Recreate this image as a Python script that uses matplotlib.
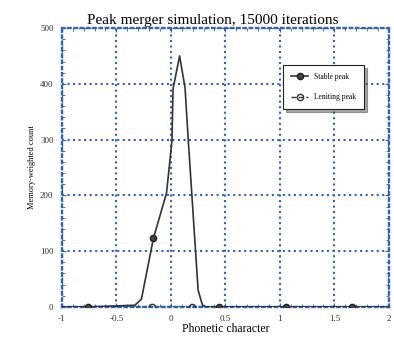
import matplotlib
matplotlib.use("Agg")
import matplotlib.pyplot as plt
import numpy as np

# stable peak curve (phonetic character, memory-weighted count)
stable_x = [-1.0, -0.76, -0.33, -0.27, -0.16, -0.04, 0.01, 0.02, 0.08, 0.13, 0.16, 0.25, 0.29, 0.32, 0.44, 1.06, 1.66, 2.0]
stable_y = [0, 0, 3, 14, 123, 204, 298, 391, 450, 393, 298, 30, 3, 0, 0, 0, 0, 0]
stable_marks = [1, 4, 14, 15, 16]

# leniting peak
lenit_x = [-1.0, -0.17, 0.19, 2.0]
lenit_y = [0, 0, 0, 0]
lenit_marks = [1, 2]

x_ticks = [-1, -0.5, 0, 0.5, 1, 1.5, 2]
x_ticklabels = ["-1", "-0.5", "0", "0.5", "1", "1.5", "2"]
y_ticks = [0, 100, 200, 300, 400, 500]

plt.rcParams["font.family"] = ["Liberation Serif", "DejaVu Serif"]
blue = "#2f62b8"

fig = plt.figure(figsize=(3.94, 3.38), dpi=100)
ax = fig.add_axes([0.157, 0.092, 0.83, 0.825])

ax.plot(lenit_x, lenit_y, "--", color="#333333", linewidth=1.0,
        marker="o", markevery=lenit_marks, markersize=4.5,
        markerfacecolor="none", markeredgecolor="#333333", label="Leniting peak",
        zorder=3)
ax.plot(stable_x, stable_y, "-", color="#333333", linewidth=1.2,
        marker="o", markevery=stable_marks, markersize=4.5,
        markerfacecolor="#444444", markeredgecolor="#222222", label="Stable peak",
        zorder=4)

ax.set_xlim(-1, 2)
ax.set_ylim(0, 500)
ax.set_xticks(x_ticks)
ax.set_xticklabels(x_ticklabels)
ax.set_yticks(y_ticks)
ax.set_xticks(np.arange(-1, 2.01, 0.1), minor=True)
ax.set_yticks(np.arange(0, 501, 20), minor=True)
ax.tick_params(which="both", direction="in", colors=blue, labelcolor="#333333",
               labelsize=6.5, top=True, right=True)
ax.tick_params(which="major", length=3, pad=6)
ax.tick_params(which="minor", length=2)

ax.grid(True, which="major", linestyle=":", color=blue, linewidth=1.5)
for s in ax.spines.values():
    s.set_color(blue)
    s.set_linestyle(":")
    s.set_linewidth(1.7)

ax.set_title("Peak merger simulation, 15000 iterations", fontsize=11, pad=3, x=0.46)
ax.set_xlabel("Phonetic character", fontsize=8.5, labelpad=0)
ax.set_ylabel("Memory-weighted count", fontsize=6, labelpad=3)

h, l = ax.get_legend_handles_labels()
leg = ax.legend(h[::-1], l[::-1], loc="upper right", bbox_to_anchor=(0.935, 0.88),
                fontsize=5.5, frameon=True, fancybox=False, shadow=True,
                borderpad=1.0, labelspacing=1.6, handlelength=2.2)
leg.get_frame().set_edgecolor("#222222")
leg.get_frame().set_linewidth(0.8)

fig.savefig("out.png", dpi=100)
